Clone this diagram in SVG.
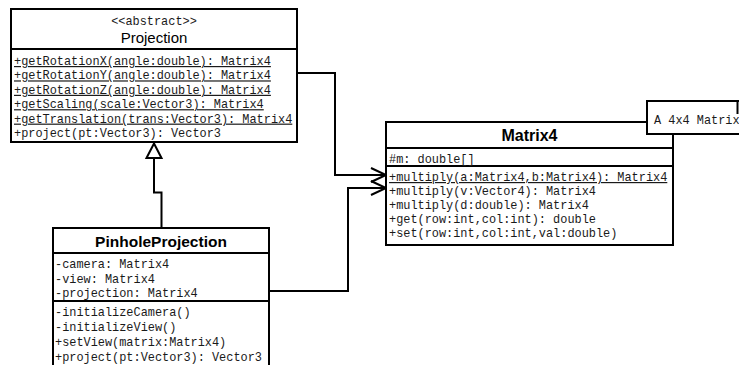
<svg xmlns="http://www.w3.org/2000/svg" width="739" height="365" viewBox="0 0 739 365">
<style>
.box{fill:#fff;stroke:#000;stroke-width:2}
.sep{stroke:#000;stroke-width:2}
.m{font-family:"Liberation Mono","Courier New",monospace;font-size:11.9px;fill:#1a1a1a}
.u{text-decoration:underline}
.t{font-family:"Liberation Sans",Arial,sans-serif;font-size:15px;fill:#000;text-anchor:middle}
.b{font-family:"Liberation Sans",Arial,sans-serif;font-weight:bold;fill:#000;text-anchor:middle}
.ln{fill:none;stroke:#000;stroke-width:2}
</style>
<rect width="739" height="365" fill="#fff"/>
<g id="connectors">
  <path class="ln" d="M297,73 H335 V175 H386"/>
  <path class="ln" d="M371,168 L386,175 L371,182"/>
  <path class="ln" d="M269,291 H348 V188 H386"/>
  <path class="ln" d="M371,181 L386,188 L371,195"/>
  <path class="ln" d="M161.5,228 V192.5 H154 V158"/>
  <path d="M154,143.5 L146.5,158 L161.5,158 Z" fill="#fff" stroke="#000" stroke-width="2"/>
</g>
<g id="Projection">
  <rect class="box" x="11" y="9" width="286" height="133"/>
  <line class="sep" x1="11" y1="49" x2="297" y2="49"/>
  <text class="m" x="154" y="24.5" text-anchor="middle">&lt;&lt;abstract&gt;&gt;</text>
  <text class="t" x="154" y="42.5">Projection</text>
  <text class="m u" x="14" y="65">+getRotationX(angle:double): Matrix4</text>
  <text class="m u" x="14" y="79.4">+getRotationY(angle:double): Matrix4</text>
  <text class="m u" x="14" y="93.8">+getRotationZ(angle:double): Matrix4</text>
  <text class="m u" x="14" y="108.2">+getScaling(scale:Vector3): Matrix4</text>
  <text class="m u" x="14" y="122.6">+getTranslation(trans:Vector3): Matrix4</text>
  <text class="m" x="14" y="137">+project(pt:Vector3): Vector3</text>
</g>
<g id="PinholeProjection">
  <rect class="box" x="53" y="228" width="216" height="145"/>
  <line class="sep" x1="53" y1="253" x2="269" y2="253"/>
  <line class="sep" x1="53" y1="301" x2="269" y2="301"/>
  <text class="b" x="161" y="247" font-size="15.5">PinholeProjection</text>
  <text class="m" x="55" y="267.5">-camera: Matrix4</text>
  <text class="m" x="55" y="282.5">-view: Matrix4</text>
  <text class="m" x="55" y="297">-projection: Matrix4</text>
  <text class="m" x="55" y="316">-initializeCamera()</text>
  <text class="m" x="55" y="331">-initializeView()</text>
  <text class="m" x="55" y="346">+setView(matrix:Matrix4)</text>
  <text class="m" x="55" y="361">+project(pt:Vector3): Vector3</text>
</g>
<g id="Matrix4">
  <rect class="box" x="386" y="122" width="287" height="123"/>
  <line class="sep" x1="386" y1="148" x2="673" y2="148"/>
  <line class="sep" x1="386" y1="166" x2="673" y2="166"/>
  <text class="b" x="529.5" y="140.5" font-size="16">Matrix4</text>
  <text class="m" x="389" y="163">#m: double[]</text>
  <text class="m u" x="389" y="181">+multiply(a:Matrix4,b:Matrix4): Matrix4</text>
  <text class="m" x="389" y="195">+multiply(v:Vector4): Matrix4</text>
  <text class="m" x="389" y="209">+multiply(d:double): Matrix4</text>
  <text class="m" x="389" y="223">+get(row:int,col:int): double</text>
  <text class="m" x="389" y="237">+set(row:int,col:int,val:double)</text>
</g>
<g id="note">
  <rect class="box" x="647" y="101" width="100" height="33"/>
  <line class="sep" x1="737.5" y1="101" x2="737.5" y2="114"/>
  <text class="m" x="654" y="124" font-size="11.5">A 4x4 Matrix</text>
</g>
</svg>
